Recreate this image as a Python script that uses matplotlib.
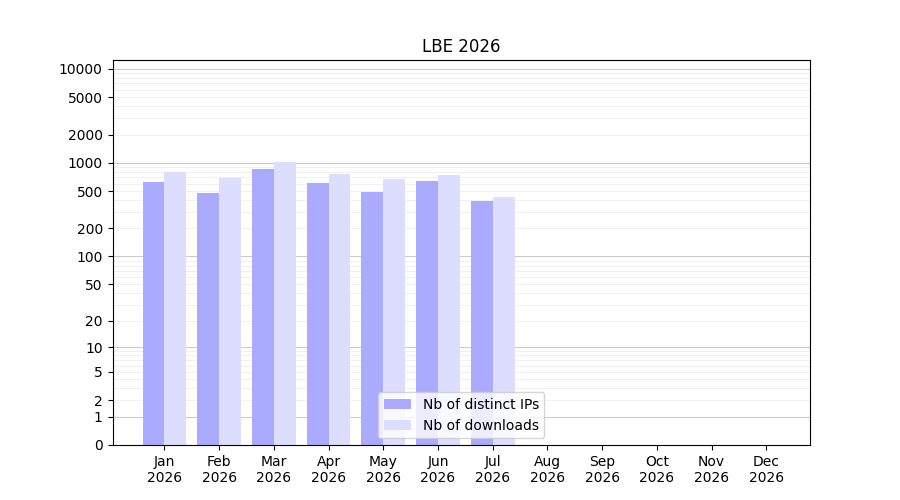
import numpy as np
import matplotlib
matplotlib.use("Agg")
import matplotlib.pyplot as plt

months = ["Jan\n2026","Feb\n2026","Mar\n2026","Apr\n2026","May\n2026","Jun\n2026",
          "Jul\n2026","Aug\n2026","Sep\n2026","Oct\n2026","Nov\n2026","Dec\n2026"]
ips = [630, 480, 865, 615, 490, 640, 395]
downloads = [800, 690, 1020, 760, 675, 745, 435]
yticks = [0,1,2,5,10,20,50,100,200,500,1000,2000,5000,10000]

fig, ax = plt.subplots(figsize=(9,5), dpi=100)
ax.set_yscale('function', functions=(lambda v: np.log10(1+np.clip(v,0,None)), lambda u: 10**u-1))
x = np.arange(len(months))
ax.bar(x[:len(ips)], ips, width=-0.4, align='edge', color='#aaaaff', label='Nb of distinct IPs', zorder=2)
ax.bar(x[:len(downloads)], downloads, width=0.4, align='edge', color='#ddddff', label='Nb of downloads', zorder=2)
ax.set_xticks(x)
ax.set_xticklabels(months)
ax.set_xlim(-0.95, 11.8)
ax.set_ylim(0, 12400)
ax.set_yticks(yticks)
ax.set_yticklabels([str(t) for t in yticks])
for d in [1,10,100,1000,10000]:
    ax.axhline(d, color='#cccccc', lw=0.8, zorder=0)
    for m in range(2,10):
        if d*m < 12400:
            ax.axhline(d*m, color='#eeeeee', lw=0.6, zorder=0)
ax.set_title('LBE 2026')
ax.legend(loc='lower center')
fig.savefig('out.png')
